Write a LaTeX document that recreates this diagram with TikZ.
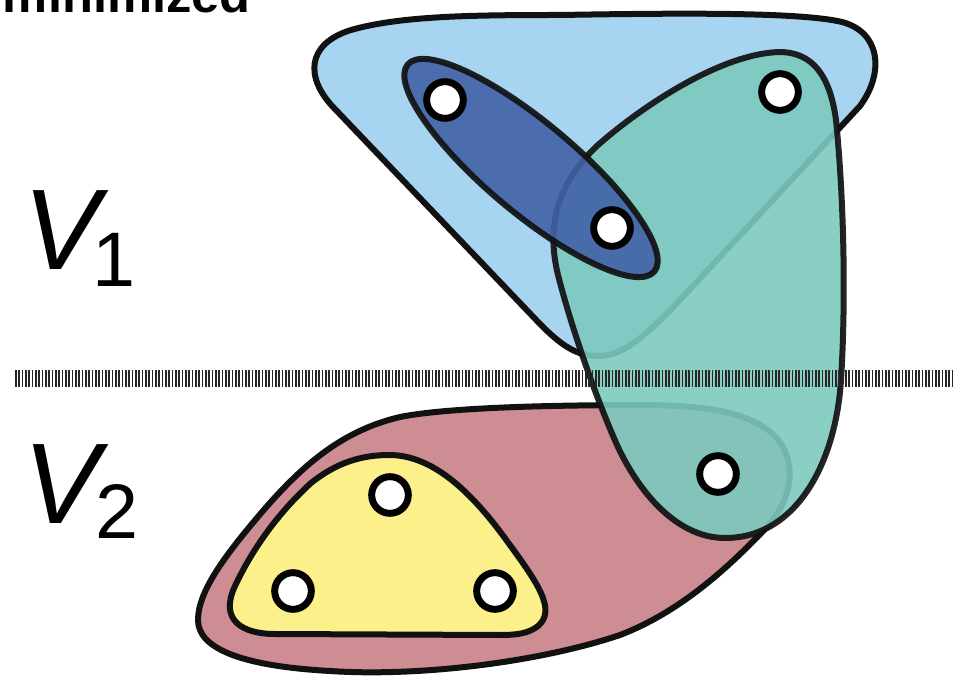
\documentclass[tikz,border=0pt]{standalone}
\usepackage{fontspec}
\setmainfont{Liberation Sans}
\definecolor{lblue}{HTML}{A7D4F1}
\definecolor{dblue}{HTML}{4262A7}
\definecolor{tealc}{HTML}{7DCABE}
\definecolor{redc}{HTML}{CE8C93}
\definecolor{yelc}{HTML}{FCF08B}
\definecolor{ink}{HTML}{111111}
\tikzset{
  edgeset/.style={draw=ink, line width=4.5pt, line join=round},
  vert/.style={circle, draw=black, fill=white, line width=5.2pt, minimum size=27.5pt, inner sep=0pt},
  biglab/.style={anchor=base west, inner sep=0pt, font=\fontsize{86}{86}\selectfont\itshape},
  sublab/.style={anchor=base west, inner sep=0pt, font=\fontsize{58}{58}\selectfont},
}
\begin{document}
\begin{tikzpicture}[x=0.75pt, y=-0.75pt]
\useasboundingbox (0,0) rectangle (959,680);
% light blue hyperedge
\path[edgeset, fill=lblue] (560,15) .. controls (680,13) and (800,12) .. (842,22)
  .. controls (880,32) and (885,72) .. (860,106) -- (680,300)
  .. controls (640,342) and (620,357) .. (595,356)
  .. controls (575,355) and (560,344) .. (541,325) -- (334,108)
  .. controls (305,78) and (306,44) .. (351,30)
  .. controls (400,16) and (470,15) .. (560,15) -- cycle;
% red hyperedge
\path[edgeset, fill=redc] (650,405) .. controls (560,405) and (450,407) .. (400,417)
  .. controls (340,431) and (300,468) .. (262,512)
  .. controls (228,552) and (198,590) .. (198,620)
  .. controls (198,648) and (240,666) .. (330,671)
  .. controls (420,677) and (540,662) .. (620,635)
  .. controls (680,612) and (728,568) .. (767,527)
  .. controls (797,494) and (797,452) .. (768,430)
  .. controls (740,410) and (700,406) .. (650,405) -- cycle;
% yellow hyperedge
\path[edgeset, fill=yelc] (389,455) .. controls (430,455) and (468,487) .. (507,541)
  .. controls (537,582) and (557,610) .. (538,626)
  .. controls (528,634) and (515,635) .. (500,635) -- (275,634)
  .. controls (242,634) and (219,620) .. (235,586)
  .. controls (252,550) and (277,514) .. (311,483)
  .. controls (336,463) and (361,455) .. (389,455) -- cycle;
% teal hyperedge
\path[edgeset, fill=tealc, fill opacity=0.9, draw opacity=0.92] (779,52) .. controls (813,52) and (830,76) .. (836,120)
  .. controls (844,200) and (846,300) .. (841,380)
  .. controls (836,460) and (798,538) .. (725,538)
  .. controls (681,538) and (642,499) .. (617,445)
  .. controls (597,400) and (572,330) .. (558,275)
  .. controls (547,230) and (554,186) .. (598,145)
  .. controls (641,107) and (720,54) .. (779,52) -- cycle;
% dark blue hyperedge
\path[edgeset, fill=dblue, fill opacity=0.9, draw opacity=0.92, rotate around={-40:(531,168)}]
  (531,168) ellipse [x radius=161, y radius=45];
% cut line
\coordinate (cl) at (15,378.5);
\coordinate (cr) at (952,378.5);
\draw[black!85, line width=12.75pt, dash pattern=on 1.25pt off 1.25pt] (cl) -- (cr);
% vertices
\node[vert] (v1) at (445,100) {};
\node[vert] (v2) at (612,228) {};
\node[vert] (v3) at (780,92) {};
\node[vert] (v4) at (718,474) {};
\node[vert] (v5) at (390,495) {};
\node[vert] (v6) at (293,591) {};
\node[vert] (v7) at (495,591) {};
% labels
\node[biglab] (V1) at (23,270) {V};
\node[sublab] (s1) at (92,287) {1};
\node[biglab] (V2) at (23,523) {V};
\node[sublab] (s2) at (95,538) {2};
\node[anchor=base east, inner sep=0pt, font=\fontsize{38}{38}\selectfont\bfseries] (title) at (251,13) {minimized};
\end{tikzpicture}
\end{document}
